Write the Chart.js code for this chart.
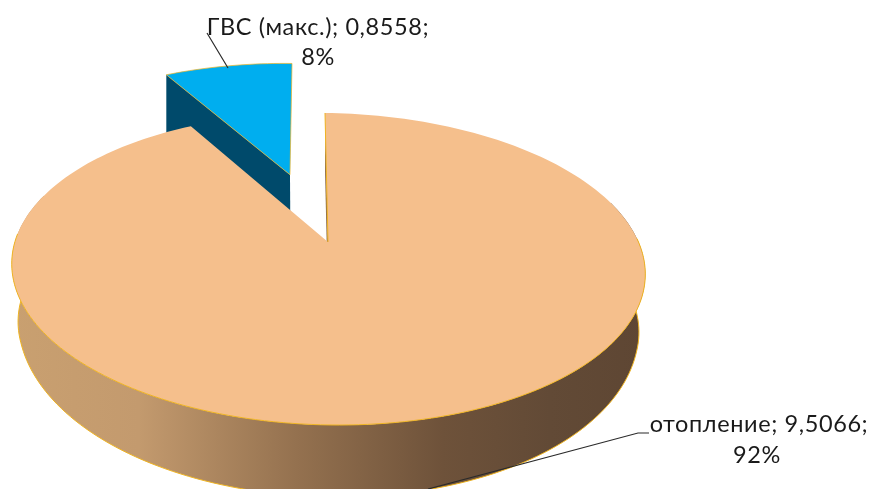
<!DOCTYPE html>
<html>
<head>
<meta charset="utf-8">
<style>
    html, body { margin: 0; padding: 0; background: #fff; overflow: hidden; }
    canvas { display: block; }
</style>
<script src="https://cdn.jsdelivr.net/npm/chart.js@4/dist/chart.umd.min.js"></script>
</head>
<body>
<canvas id="loadChart" width="873" height="489"></canvas>
<script>
const categories = ['отопление', 'ГВС (макс.)'];
const loadValues = [9.5066, 0.8558];

const topColors = ['#f5bf8c', '#00aeef'];
const wallColors = [null, '#004a6b'];
const edgeColor = '#efb422';

// perspective of the tilted disc
const DISC_X = 312;
const DISC_Y = 151.3;
const TILT = 0.173;
const SKEW_X = 3;
const SKEW_Y = 0.012;

function project(arc, u, v) {
    const w = 1 - TILT * v;
    const dx = DISC_X * u / w + SKEW_X * v;
    return { x: arc.x + dx, y: arc.y + DISC_Y * v / w + SKEW_Y * dx };
}

// same point on the bottom rim, the wall gets taller towards the front
function projectBottom(arc, u, v) {
    const p = project(arc, u, v);
    const shrink = 1 - 0.02 * Math.min(1, Math.max(0, v + 1));
    return {
        x: arc.x + (p.x - arc.x) * shrink,
        y: p.y + Math.max(58, 52 + 20 * v)
    };
}

function sliceGeometry(arc) {
    const p = arc.getProps(['x', 'y', 'startAngle', 'endAngle', 'outerRadius'], true);
    const mid = (p.startAngle + p.endAngle) / 2;
    const shift = arc.options.offset / p.outerRadius;
    const du = Math.cos(mid) * shift;
    const dv = Math.sin(mid) * shift;
    const steps = Math.ceil((p.endAngle - p.startAngle) * 40);
    const rim = [];
    for (let i = 0; i <= steps; i++) {
        const a = p.startAngle + (p.endAngle - p.startAngle) * i / steps;
        rim.push([Math.cos(a) + du, Math.sin(a) + dv]);
    }
    return { center: p, tip: [du, dv], rim };
}

function polygon(ctx, points) {
    ctx.beginPath();
    points.forEach((pt, i) => (i ? ctx.lineTo(pt.x, pt.y) : ctx.moveTo(pt.x, pt.y)));
    ctx.closePath();
}

function polyline(ctx, points) {
    ctx.beginPath();
    points.forEach((pt, i) => (i ? ctx.lineTo(pt.x, pt.y) : ctx.moveTo(pt.x, pt.y)));
    ctx.stroke();
}

function wallPaint(ctx) {
    const g = ctx.createLinearGradient(12, 0, 645, 0);
    g.addColorStop(0, '#c9a070');
    g.addColorStop(0.2, '#c39a6e');
    g.addColorStop(0.45, '#94714f');
    g.addColorStop(0.68, '#6e523a');
    g.addColorStop(0.85, '#624a36');
    g.addColorStop(1, '#5e4633');
    return g;
}

const pie3d = {
    id: 'pie3d',
    beforeDatasetsDraw(chart) {
        const ctx = chart.ctx;
        const arcs = chart.getDatasetMeta(0).data;
        // the small slice goes first, the big one covers its wall
        for (let i = arcs.length - 1; i >= 0; i--) {
            const { center, tip, rim } = sliceGeometry(arcs[i]);
            const top = rim.map(([u, v]) => project(center, u, v));
            const bottom = rim.map(([u, v]) => projectBottom(center, u, v));
            const tipTop = project(center, tip[0], tip[1]);
            const tipBottom = projectBottom(center, tip[0], tip[1]);

            ctx.save();
            ctx.fillStyle = wallColors[i] || wallPaint(ctx);

            // outer wall, only the part turned towards the viewer
            const near = rim.map((pt, n) => (pt[1] > -0.3 ? n : -1)).filter(n => n >= 0);
            if (near.length) {
                const upper = near.map(n => top[n]);
                const lower = near.map(n => bottom[n]).reverse();
                polygon(ctx, upper.concat(lower));
                ctx.fill();
            }
            // cut face on the opening side of the slice
            polygon(ctx, [tipTop, top[0], bottom[0], tipBottom]);
            ctx.fill();

            // gold rim along the front of the wall
            ctx.strokeStyle = edgeColor;
            ctx.lineWidth = 1;
            const front = rim.map((pt, n) => (pt[1] > -0.05 ? n : -1)).filter(n => n >= 0);
            if (front.length) {
                polyline(ctx, front.map(n => bottom[n]));
            }

            // top face
            ctx.fillStyle = topColors[i];
            polygon(ctx, [tipTop].concat(top));
            ctx.fill();
            if (front.length) {
                polyline(ctx, front.map(n => top[n]));
                polyline(ctx, [top[0], tipTop]);
            } else {
                ctx.globalAlpha = 0.7;
                polygon(ctx, [tipTop].concat(top));
                ctx.stroke();
            }
            ctx.restore();
        }
        return false;
    },
    afterDraw(chart) {
        const ctx = chart.ctx;
        const total = loadValues.reduce((a, b) => a + b, 0);
        const line = (i) => categories[i] + '; ' + loadValues[i].toFixed(4).replace('.', ',') + ';';
        const pct = (i) => Math.round(loadValues[i] / total * 100) + '%';

        ctx.save();
        ctx.strokeStyle = '#2b2b2b';
        ctx.lineWidth = 1.2;
        ctx.beginPath();
        ctx.moveTo(207, 33);
        ctx.lineTo(228, 68);
        ctx.moveTo(649, 433);
        ctx.lineTo(638, 433);
        ctx.lineTo(428, 489);
        ctx.stroke();

        ctx.fillStyle = '#1a1a1a';
        ctx.font = '23.5px Lato';
        ctx.textAlign = 'center';
        ctx.textBaseline = 'middle';
        ctx.letterSpacing = '0.6px';
        ctx.fillText(line(1), 318, 27);
        ctx.fillText(pct(1), 318, 57);
        ctx.fillText(line(0), 759, 424);
        ctx.fillText(pct(0), 757, 455);
        ctx.restore();
    }
};

new Chart(document.getElementById('loadChart'), {
    type: 'pie',
    data: {
        labels: categories,
        datasets: [{
            data: loadValues,
            backgroundColor: topColors,
            borderWidth: 0,
            offset: [0, 96]
        }]
    },
    options: {
        responsive: false,
        animation: false,
        layout: { padding: { right: 217, bottom: 5 } },
        plugins: {
            legend: { display: false },
            tooltip: { enabled: false }
        }
    },
    plugins: [pie3d]
});
</script>
</body>
</html>
